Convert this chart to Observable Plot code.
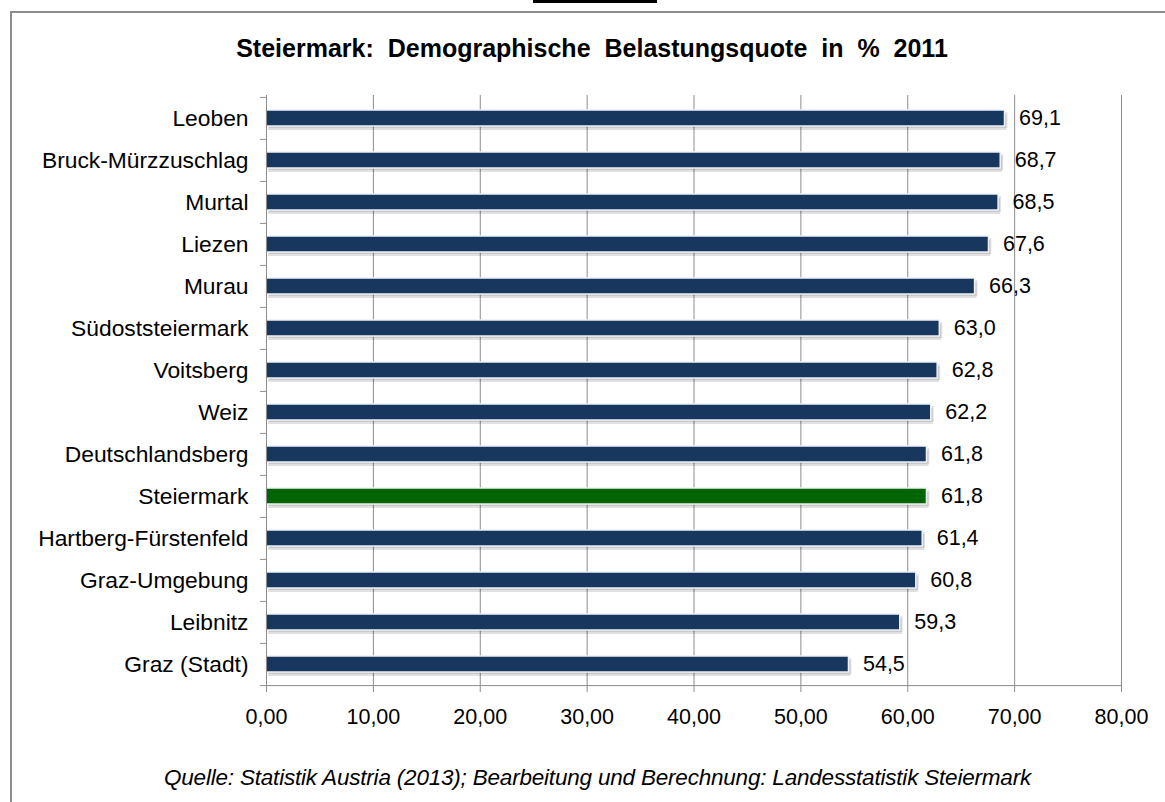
<!DOCTYPE html>
<html>
<head>
<meta charset="utf-8">
<script src="https://cdn.jsdelivr.net/npm/d3@7"></script>
<script src="https://cdn.jsdelivr.net/npm/@observablehq/plot@0.6"></script>
<style>
  html, body { margin: 0; padding: 0; background: #fff; }
  #wrap { position: relative; width: 1165px; height: 802px; overflow: hidden; font-family: "Liberation Sans", Arial, sans-serif; }
  #frame { position: absolute; left: 10px; top: 11px; width: 1170px; height: 800px; border: 2px solid #8c8c8c; box-sizing: border-box; }
  #tab { position: absolute; left: 533px; top: 0; width: 124px; height: 3px; background: #000; }
  #title { position: absolute; left: 0; width: 1184px; top: 34px; text-align: center; font-weight: bold; font-size: 25px; word-spacing: 7px; color: #000; }
  #chart { position: absolute; left: 0; top: 80px; }
  #caption { position: absolute; left: 0; width: 1195px; top: 765px; text-align: center; font-style: italic; font-size: 22.5px; color: #000; letter-spacing: -0.2px; }
</style>
</head>
<body>
<div id="wrap">
  <div id="frame"></div>
  <div id="tab"></div>
  <div id="title">Steiermark: Demographische Belastungsquote in % 2011</div>
  <div id="chart"></div>
  <div id="caption">Quelle: Statistik Austria (2013); Bearbeitung und Berechnung: Landesstatistik Steiermark</div>
</div>
<script>
const regions = ["Leoben", "Bruck-Mürzzuschlag", "Murtal", "Liezen", "Murau", "Südoststeiermark", "Voitsberg", "Weiz", "Deutschlandsberg", "Steiermark", "Hartberg-Fürstenfeld", "Graz-Umgebung", "Leibnitz", "Graz (Stadt)"];
const values = [69.1, 68.7, 68.5, 67.6, 66.3, 63.0, 62.8, 62.2, 61.8, 61.8, 61.4, 60.8, 59.3, 54.5];
const highlight = "Steiermark";
const xTicks = [0, 10, 20, 30, 40, 50, 60, 70, 80];

const data = regions.map((r, i) => ({region: r, value: values[i]}));
const comma = (f) => (v) => d3.format(f)(v).replace(".", ",");

const W = 1165, H = 660, mt = 15, mb = 54;
const step = (H - mt - mb) / regions.length;
const font = "Liberation Sans, Arial, sans-serif";

const chart = Plot.plot({
  width: W,
  height: H,
  marginLeft: 266,
  marginRight: 44,
  marginTop: mt,
  marginBottom: mb,
  style: {fontFamily: font, fontSize: "21px", color: "#000", background: "transparent"},
  x: {domain: [0, 80], ticks: xTicks, tickFormat: comma(".2f"), tickSize: 6, tickPadding: 16, label: null},
  y: {domain: regions, paddingInner: 0.62, paddingOuter: 0.31, tickSize: 0, tickPadding: 18, label: null},
  marks: [
    Plot.gridX(xTicks.filter(d => d > 0), {stroke: "#8c8c8c", strokeOpacity: 1, strokeWidth: 1}),
    // shadow
    Plot.barX(data, {y: "region", x: "value", fill: "#000", fillOpacity: 0.12, dx: 2, dy: 4}),
    Plot.barX(data, {y: "region", x: "value", fill: "#000", fillOpacity: 0.10, dx: 3, dy: 2}),
    Plot.barX(data, {y: "region", x: "value", fill: d => d.region === highlight ? "#006400" : "#17375e", stroke: "#eef1f6", strokeWidth: 1.5}),
    Plot.text(data, {y: "region", x: "value", text: d => comma(".1f")(d.value), textAnchor: "start", dx: 14, fill: "#000", fontSize: 21.5}),
    // category boundary ticks on left axis
    Plot.ruleY(regions, {y: d => d, x1: -0.55, x2: 0, dy: -step / 2, stroke: "#8c8c8c"}),
    Plot.ruleY(regions.slice(-1), {y: d => d, x1: -0.55, x2: 80, dy: step / 2, stroke: "#8c8c8c"}),
    Plot.ruleX([0], {stroke: "#8c8c8c"}),
    Plot.axisX({ticks: xTicks, tickFormat: comma(".2f"), tickSize: 6, tickPadding: 16, stroke: "#8c8c8c", fill: "#000", fontSize: 21.5}),
    Plot.axisY({tickSize: 0, tickPadding: 18, fill: "#000", fontSize: 22.8})
  ]
});
document.getElementById("chart").appendChild(chart);
</script>
</body>
</html>
